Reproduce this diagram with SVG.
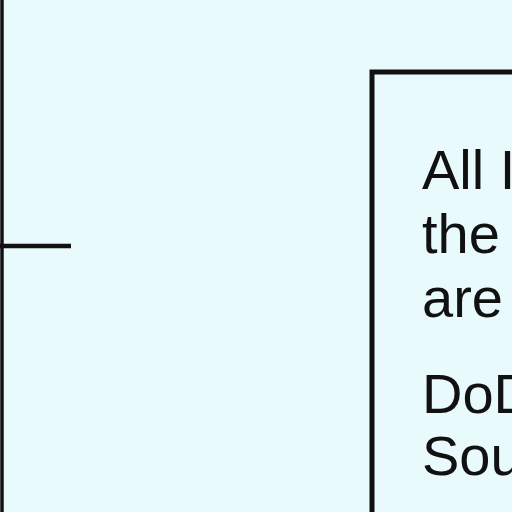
<svg xmlns="http://www.w3.org/2000/svg" width="512" height="512" viewBox="0 0 512 512">
<style>
.t{font-family:"Liberation Sans",Arial,sans-serif;font-size:56px;fill:#111}
.ln{stroke:#111;fill:none}
</style>
<rect width="512" height="512" fill="#E9FAFD"/>
<g id="connectors">
<line class="ln" x1="2" y1="0" x2="2" y2="512" stroke-width="3.5"/>
<line class="ln" x1="0" y1="246" x2="71" y2="246" stroke-width="4.5"/>
</g>
<g id="note">
<rect class="ln" x="372" y="72" width="200" height="500" stroke-width="5"/>
<text class="t" x="422" y="189">All I</text>
<text class="t" x="422" y="253">the</text>
<text class="t" x="422" y="317">are</text>
<text class="t" x="422" y="413">DoD</text>
<text class="t" x="422" y="475">Sou</text>
</g>
</svg>
